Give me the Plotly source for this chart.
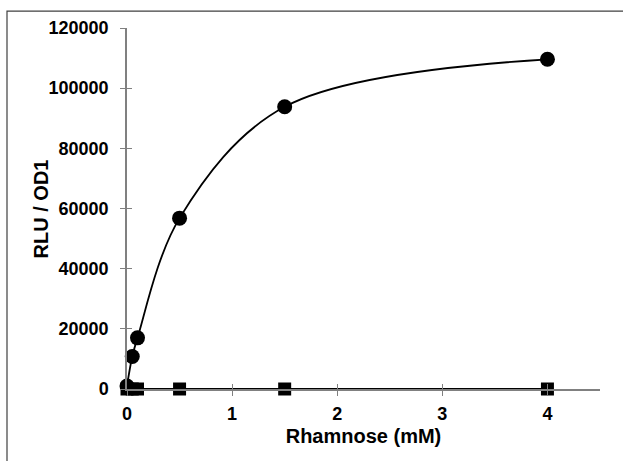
import plotly.graph_objects as go

rhamnose_mM = [0, 0.05, 0.1, 0.5, 1.5, 4]
rlu_circle = [1000, 10800, 17000, 56800, 93800, 109600]
rlu_square = [0, 0, 0, 0, 0, 0]
x_ticks = [0, 1, 2, 3, 4]
y_ticks = [0, 20000, 40000, 60000, 80000, 100000, 120000]

fig = go.Figure()
fig.add_trace(go.Scatter(
    x=rhamnose_mM, y=rlu_square, mode="lines+markers",
    line=dict(color="black", width=2),
    marker=dict(symbol="square", size=13, color="black"),
    showlegend=False, cliponaxis=False))
fig.add_trace(go.Scatter(
    x=rhamnose_mM, y=rlu_circle, mode="lines+markers",
    line=dict(color="black", width=1.8, shape="spline", smoothing=1),
    marker=dict(symbol="circle", size=15, color="black"),
    showlegend=False, cliponaxis=False))

fam = "Liberation Sans, Arial, sans-serif"

fig.update_layout(
    width=623, height=461,
    margin=dict(l=127, r=23, t=28, b=72),
    paper_bgcolor="white", plot_bgcolor="white",
    font=dict(family=fam, size=16, color="black"),
    xaxis=dict(range=[0, 4.5], tickvals=x_ticks, ticktext=["<b>%s</b>" % v for v in x_ticks],
               showgrid=False, zeroline=False, showline=True, linecolor="#808080", linewidth=1.5,
               ticks="outside", ticklen=5, tickcolor="#808080", tickwidth=1,
               ticklabelstandoff=3,
               tickfont=dict(family=fam, size=18, color="black"),
               title=dict(text="<b>Rhamnose (mM)</b>", font=dict(family=fam, size=20, color="black"), standoff=6)),
    yaxis=dict(range=[0, 120000], tickvals=y_ticks, ticktext=["<b>%s</b>" % v for v in y_ticks],
               showgrid=False, zeroline=False, showline=True, linecolor="#808080", linewidth=1.5,
               ticks="outside", ticklen=5, tickcolor="#808080", tickwidth=1,
               ticklabelstandoff=8,
               tickfont=dict(family=fam, size=18, color="black")),
    xaxis2=dict(overlaying="x", range=[0, 4.5], tickvals=x_ticks, showticklabels=False,
                showgrid=False, zeroline=False, ticks="inside", ticklen=5, tickcolor="#808080", tickwidth=1,
                anchor="y"),
    yaxis2=dict(overlaying="y", range=[0, 120000], tickvals=y_ticks, showticklabels=False,
                showgrid=False, zeroline=False, ticks="inside", ticklen=5, tickcolor="#808080", tickwidth=1,
                anchor="x"),
    annotations=[dict(text="<b>RLU / OD1</b>", textangle=-90, xref="paper", yref="paper",
                      x=-0.182, y=0.5, xanchor="center", yanchor="middle", showarrow=False,
                      font=dict(family=fam, size=20, color="black"))],
    shapes=[dict(type="rect", xref="paper", yref="paper", x0=-0.2537, x1=1.3, y0=-0.4, y1=1.047,
                 line=dict(color="#404040", width=1.2), fillcolor="rgba(0,0,0,0)", layer="below")],
)
fig.add_trace(go.Scatter(x=[None], y=[None], xaxis="x2", yaxis="y2", showlegend=False, hoverinfo="skip"))

fig.write_html("out.html")
